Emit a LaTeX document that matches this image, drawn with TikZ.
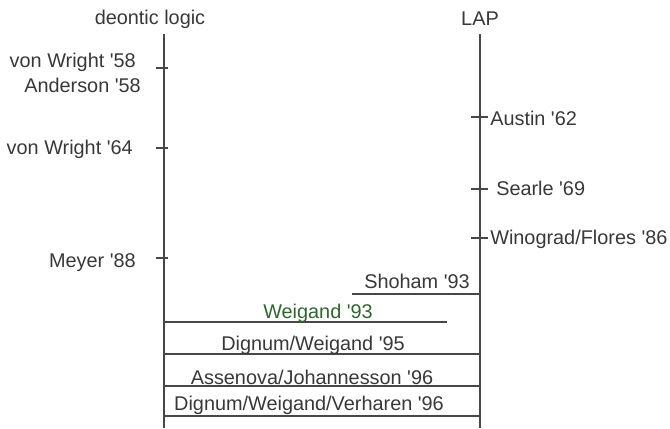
\documentclass[tikz,border=0pt]{standalone}
\usepackage{fontspec}
\setmainfont{Liberation Sans}
\newcommand{\ap}{\textquotesingle}
\begin{document}
\begin{tikzpicture}[x=0.75pt,y=-0.75pt,
  lbl/.style={inner sep=0pt,text=black!78,font=\fontsize{14.9}{17}\selectfont},
  axis/.style={line width=1.5pt,draw=black!72},
  tick/.style={line width=1.5pt,draw=black!72},
  bar/.style={line width=1.5pt,draw=black!72}]
\useasboundingbox (0,0) rectangle (670,428);
% axes
\coordinate (Ltop) at (164,34);
\coordinate (Lbot) at (164,428);
\coordinate (Rtop) at (480,34);
\coordinate (Rbot) at (480,428);
\draw[axis] (Ltop) -- (Lbot);
\draw[axis] (Rtop) -- (Rbot);
\node[lbl] (dl) at (150,19) {deontic logic};
\node[lbl] (lap) at (480,19) {LAP};
% left ticks
\foreach \n/\y in {t58/68,t64/148,t88/258}{
  \coordinate (\n a) at (156,\y);
  \coordinate (\n b) at (168,\y);
  \draw[tick] (\n a) -- (\n b);
}
\node[lbl,anchor=east] (vw58) at (136,62) {von Wright \ap58};
\node[lbl,anchor=east] (and58) at (141,85) {Anderson \ap58};
\node[lbl,anchor=east] (vw64) at (133,149) {von Wright \ap64};
\node[lbl,anchor=east] (mey) at (136,263) {Meyer \ap88};
% right ticks
\foreach \n/\y in {r62/117,r69/189,r86/238}{
  \coordinate (\n a) at (471,\y);
  \coordinate (\n b) at (488,\y);
  \draw[tick] (\n a) -- (\n b);
}
\node[lbl,anchor=west] (aus) at (490,118) {Austin \ap62};
\node[lbl,anchor=west] (sea) at (496,188) {Searle \ap69};
\node[lbl,anchor=west] (win) at (490,239) {Winograd/Flores \ap86};
% bars
\coordinate (s1) at (352,294); \coordinate (s2) at (480,294);
\draw[bar] (s1) -- (s2);
\node[lbl] (sho) at (417,281) {Shoham \ap93};
\coordinate (w1) at (164,322); \coordinate (w2) at (447,322);
\draw[bar] (w1) -- (w2);
\node[lbl,text={rgb,255:red,50;green,100;blue,50}] (wei) at (318,313) {Weigand \ap93};
\coordinate (d1) at (164,354); \coordinate (d2) at (480,354);
\draw[bar] (d1) -- (d2);
\node[lbl] (dw) at (313,345) {Dignum/Weigand \ap95};
\coordinate (a1) at (164,386); \coordinate (a2) at (480,386);
\draw[bar] (a1) -- (a2);
\node[lbl] (aj) at (312,377) {Assenova/Johannesson \ap96};
\coordinate (v1) at (164,416); \coordinate (v2) at (480,416);
\draw[bar] (v1) -- (v2);
\node[lbl] (dwv) at (309,405) {Dignum/Weigand/Verharen \ap96};
\end{tikzpicture}
\end{document}
